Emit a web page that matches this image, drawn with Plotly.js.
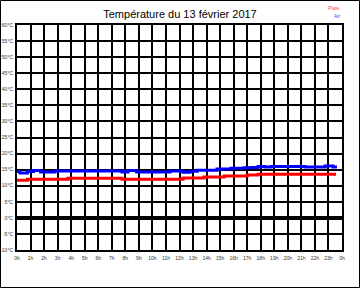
<!DOCTYPE html>
<html><head><meta charset="utf-8">
<script src="https://cdn.plot.ly/plotly-3.0.1.min.js"></script>
<style>body{margin:0;padding:0;background:#fff}#chart{width:360px;height:288px}</style>
</head><body><div id="chart"></div>
<script>
// Data (hours of the day, °C)
const airHours = [0, 0.22, 0.77, 1.22, 1.74, 2.8, 7.75, 8.2, 8.83, 11.3, 12.26, 12.78, 13.3, 14.77, 15.8, 16.77, 17.28, 17.8, 18.3, 18.76, 21.27, 22.75, 23.34, 23.63];
const airTemp  = [14.4, 13.95, 14.4, 14.7, 14.3, 14.6, 14.3, 14.7, 14.3, 14.6, 14.2, 14.5, 14.8, 15.2, 15.4, 15.6, 15.7, 16.0, 15.8, 16.0, 15.8, 16.1, 15.8, 15.8];
const plateHours = [0, 0.77, 3.77, 7.75, 12.26, 13.8, 15.3, 17.0, 17.8, 23.56];
const plateTemp  = [11.7, 12.0, 12.3, 12.0, 12.4, 12.7, 13.0, 13.3, 13.6, 13.6];
const xTickVals = [0,1,2,3,4,5,6,7,8,9,10,11,12,13,14,15,16,17,18,19,20,21,22,23,24];
const xTickText = ["0h","1h","2h","3h","4h","5h","6h","7h","8h","9h","10h","11h","12h","13h","14h","15h","16h","17h","18h","19h","20h","21h","22h","23h","0h"];
const yTickVals = [-10,-5,0,5,10,15,20,25,30,35,40,45,50,55,60];
const yTickText = yTickVals.map(v => v + "°C");
const titleText = "Température du 13 février 2017";
const seriesNames = ["Plate", "Air"];

const traces = [
  {x: plateHours, y: plateTemp, mode: 'lines', line: {color: '#ff0000', width: 3, shape: 'hv'}, name: seriesNames[0]},
  {x: airHours, y: airTemp, mode: 'lines', line: {color: '#0000ff', width: 3, shape: 'hv'}, name: seriesNames[1]}
];

const W = 325, H = 225, L = 17, T = 25;
function px(x){return (x - L)/W;}
function py(y){return (T + H - y)/H;}

const layout = {
  width: 360, height: 288,
  margin: {l: 17, r: 18, t: 25, b: 38, pad: 0},
  paper_bgcolor: '#fff', plot_bgcolor: '#fff',
  showlegend: false,
  font: {family: 'Liberation Sans, Arial, sans-serif', color: '#000'},
  title: {text: titleText, font: {size: 11, color: '#000'}, x: 0.5, xanchor: 'center', y: 1 - 14/288, yanchor: 'middle'},
  xaxis: {range: [0, 24], tickvals: xTickVals, ticktext: xTickText, showgrid: true, gridcolor: '#000', gridwidth: 2,
          showline: true, linecolor: '#000', linewidth: 2, mirror: true, zeroline: false, ticks: '',
          tickfont: {size: 5, color: '#333'}, ticklabelstandoff: 2, fixedrange: true},
  yaxis: {range: [-10, 60], tickvals: yTickVals, ticktext: yTickText, showgrid: true, gridcolor: '#000', gridwidth: 2,
          showline: true, linecolor: '#000', linewidth: 2, mirror: true, zeroline: true, zerolinecolor: '#000', zerolinewidth: 4,
          ticks: '', tickfont: {size: 5, color: '#333'}, ticklabelstandoff: 1, fixedrange: true},
  annotations: [
    {xref: 'paper', yref: 'paper', x: px(342), y: py(8), xanchor: 'right', yanchor: 'middle', text: seriesNames[0], showarrow: false, font: {size: 5, color: '#ff4444'}},
    {xref: 'paper', yref: 'paper', x: px(342), y: py(16), xanchor: 'right', yanchor: 'middle', text: seriesNames[1], showarrow: false, font: {size: 5, color: '#4444ff'}}
  ],
  shapes: [
    {type: 'rect', xref: 'paper', yref: 'paper', x0: px(0.5), x1: px(359.5), y0: py(287.5), y1: py(0.5), line: {color: '#000', width: 1}, layer: 'below'}
  ]
};
Plotly.newPlot('chart', traces, layout, {staticPlot: true, displayModeBar: false});
</script></body></html>
